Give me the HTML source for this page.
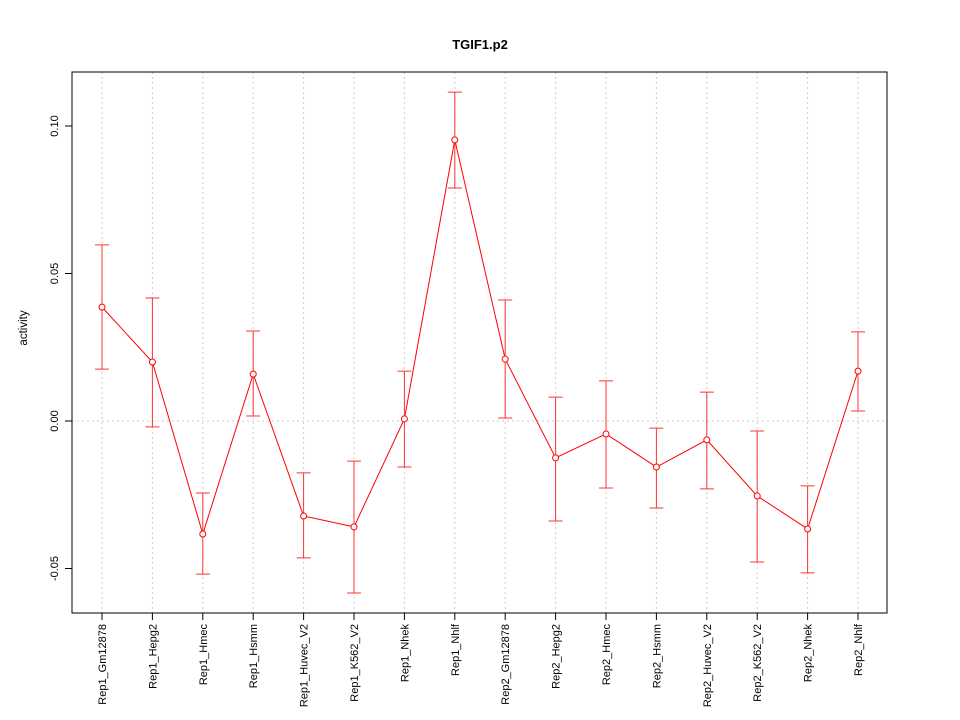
<!DOCTYPE html>
<html><head><meta charset="utf-8"><style>
body{margin:0;background:#fff}
svg{display:block;font-family:"Liberation Sans",sans-serif}
</style></head><body>
<svg id="c" width="960" height="720">
<rect width="960" height="720" fill="#fff"/>
<text x="480" y="49" text-anchor="middle" font-size="13" font-weight="bold">TGIF1.p2</text>
<text transform="translate(27,328) rotate(-90)" text-anchor="middle" font-size="11.5">activity</text>
<g id="grid"></g><g id="axes"></g><g id="marks"></g>
<rect x="72" y="72" width="815" height="541" fill="none" stroke="#000"/>
</svg>
<script>
const categories=["Rep1_Gm12878","Rep1_Hepg2","Rep1_Hmec","Rep1_Hsmm","Rep1_Huvec_V2","Rep1_K562_V2","Rep1_Nhek","Rep1_Nhlf","Rep2_Gm12878","Rep2_Hepg2","Rep2_Hmec","Rep2_Hsmm","Rep2_Huvec_V2","Rep2_K562_V2","Rep2_Nhek","Rep2_Nhlf"];
const values=[0.0386,0.020,-0.0383,0.0159,-0.0322,-0.0359,0.0007,0.0953,0.021,-0.0125,-0.0044,-0.0156,-0.0064,-0.0254,-0.0366,0.0169];
const upper=[0.0597,0.0417,-0.0244,0.0305,-0.0176,-0.0136,0.0169,0.1115,0.041,0.0081,0.0136,-0.0024,0.0098,-0.0034,-0.022,0.0302];
const lower=[0.0176,-0.002,-0.0519,0.0017,-0.0464,-0.0583,-0.0156,0.079,0.001,-0.0339,-0.0227,-0.0295,-0.023,-0.0478,-0.0515,0.0034];
const yTicks=[-0.05,0,0.05,0.10];
const yTickLabels=["-0.05","0.00","0.05","0.10"];
const NS="http://www.w3.org/2000/svg";
const X=i=>102+i*(858-102)/(categories.length-1);
const Y=v=>421-v*2950;
function mk(p,t,a){const e=document.createElementNS(NS,t);for(const k in a)e.setAttribute(k,a[k]);document.getElementById(p).appendChild(e);return e;}
categories.forEach((c,i)=>{
 let g=mk('grid','line',{x1:X(i),x2:X(i),y1:72,y2:613,stroke:'#ccc','stroke-dasharray':'2,3'});
 
 
 let t=mk('axes','line',{x1:X(i),x2:X(i),y1:613,y2:620,stroke:'#000'});
 
 
 let l=mk('axes','text',{transform:`translate(${X(i)+4},624) rotate(-90)`,'text-anchor':'end','font-size':'11'});
 l.textContent=c;
 
 
});
let h=mk('grid','line',{x1:72,x2:887,y1:Y(0),y2:Y(0),stroke:'#ccc','stroke-dasharray':'2,3'});


yTicks.forEach((v,i)=>{
 let t=mk('axes','line',{x1:65,x2:72,y1:Y(v),y2:Y(v),stroke:'#000'});
 
 
 let l=mk('axes','text',{transform:`translate(58,${Y(v)}) rotate(-90)`,'text-anchor':'middle','font-size':'11'});
 l.textContent=yTickLabels[i];
 
 
});
let pts=values.map((v,i)=>X(i)+','+Y(v)).join(' ');
let pl=mk('marks','polyline',{points:pts,fill:'none',stroke:'#f00','stroke-width':1});


values.forEach((v,i)=>{
 let x=X(i);
 let e=mk('marks','path',{d:`M${x},${Y(upper[i])}V${Y(lower[i])}M${x-7},${Y(upper[i])}H${x+7}M${x-7},${Y(lower[i])}H${x+7}`,stroke:'#f33',fill:'none'});
 
 
 let c=mk('marks','circle',{cx:x,cy:Y(v),r:3,fill:'#fff',stroke:'#f00'});
 
 
});
</script>
</body></html>
